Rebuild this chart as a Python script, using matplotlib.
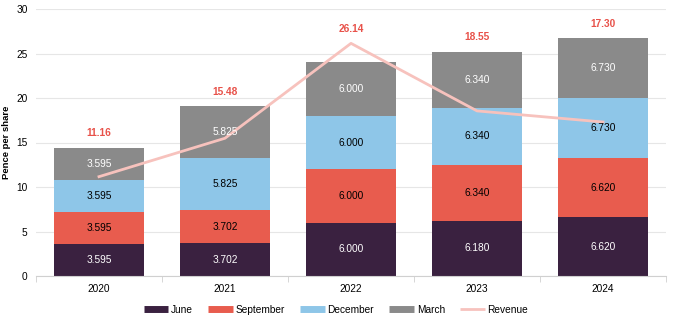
import numpy as np
import matplotlib.pyplot as plt
from matplotlib.lines import Line2D

years = ['2020', '2021', '2022', '2023', '2024']
june = [3.595, 3.702, 6.000, 6.180, 6.620]
september = [3.595, 3.702, 6.000, 6.340, 6.620]
december = [3.595, 5.825, 6.000, 6.340, 6.730]
march = [3.595, 5.825, 6.000, 6.340, 6.730]
revenue = [11.16, 15.48, 26.14, 18.55, 17.30]

series = [('June', june, '#3a2140', 'white'),
          ('September', september, '#e85c4e', 'black'),
          ('December', december, '#8ec6e8', 'black'),
          ('March', march, '#8a8a8a', 'white')]

plt.rcParams['font.family'] = ['Liberation Sans', 'DejaVu Sans']

fig = plt.figure(figsize=(6.8, 3.26), dpi=100)
ax = fig.add_axes([36 / 680, 50 / 326, 630 / 680, 267 / 326])

x = np.arange(len(years))
bottom = np.zeros(len(years))
handles = []
for name, vals, col, tcol in series:
    vals = np.array(vals)
    ax.bar(x, vals, 0.71, bottom=bottom, color=col, zorder=2)
    for xi, b, v in zip(x, bottom, vals):
        ax.text(xi, b + v / 2, f'{v:.3f}', ha='center', va='center',
                color=tcol, fontsize=7.3, zorder=4)
    bottom = bottom + vals
    handles.append(Line2D([], [], color=col, lw=5, solid_capstyle='butt', label=name))

ax.plot(x, revenue, color='#f7c2bd', lw=2, zorder=3)
handles.append(Line2D([], [], color='#f7c2bd', lw=2, solid_capstyle='butt', label='Revenue'))

for xi, tot, r in zip(x, bottom, revenue):
    top = max(tot, r)
    ax.annotate(f'{r:.2f}', (xi, top), xytext=(0, 7), textcoords='offset points',
                ha='center', va='bottom', color='#e8524a', fontsize=7.3,
                fontweight='bold')

ax.set_xlim(-0.5, len(years) - 0.5)
ax.set_ylim(0, 30)
ax.set_yticks(range(0, 31, 5))
ax.set_xticks(x)
ax.set_xticklabels(years)
ax.set_xticks(np.arange(-0.5, len(years), 1), minor=True)
ax.tick_params(axis='x', which='major', length=0, labelsize=7.3, pad=6)
ax.tick_params(axis='x', which='minor', length=4, color='#d0d0d0')
ax.tick_params(axis='y', length=0, labelsize=7.3, pad=6)
ax.grid(axis='y', color='#e6e6e6', lw=0.8, zorder=0)
ax.set_axisbelow(True)
for s in ['top', 'right', 'left']:
    ax.spines[s].set_visible(False)
ax.spines['bottom'].set_color('#d0d0d0')
ax.set_ylabel('Pence per share', fontsize=6.8, fontweight='bold')
ax.yaxis.set_label_coords(-25 / 630, 0.5)

fig.legend(handles=handles, loc='center', bbox_to_anchor=(336 / 680, 16 / 326),
           ncol=5, frameon=False, fontsize=7.3, handlelength=2.4,
           handletextpad=0.3, columnspacing=1.5)

fig.savefig('out.png', dpi=100, facecolor='white')
